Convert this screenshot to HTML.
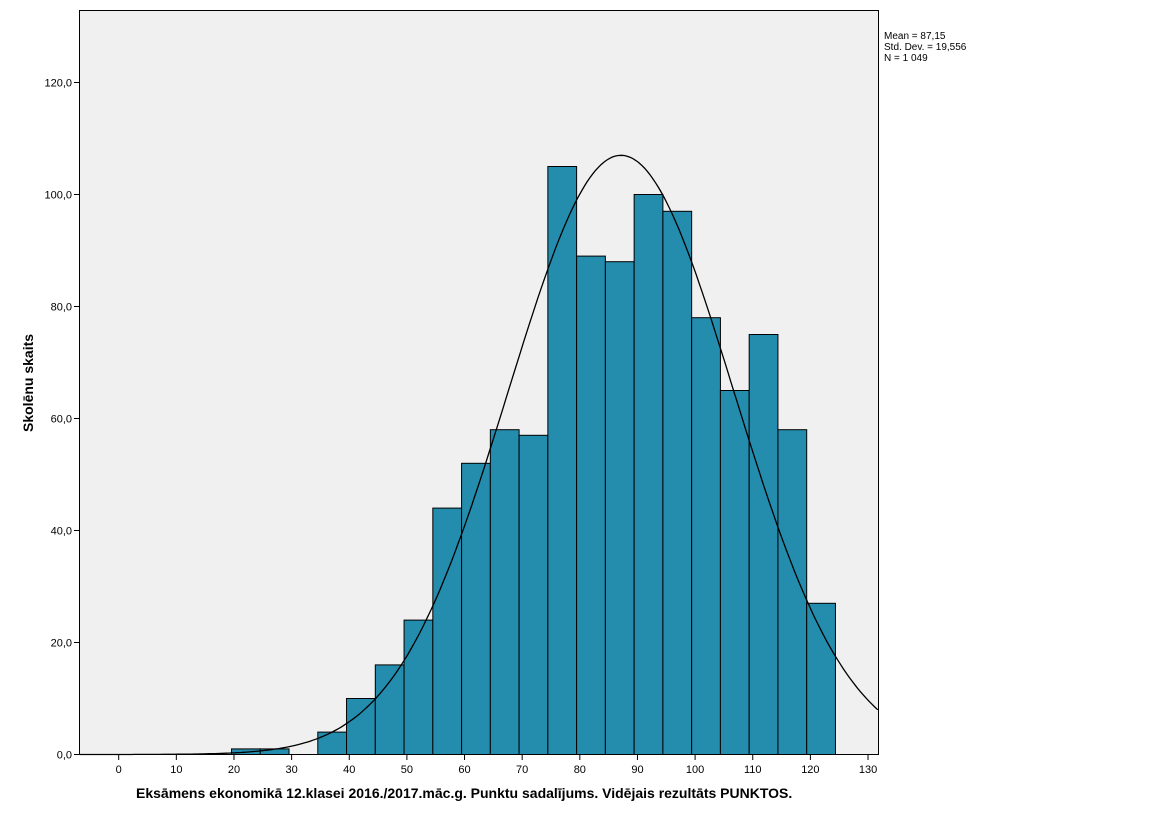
<!DOCTYPE html>
<html><head><meta charset="utf-8"><style>
body{margin:0;background:#fff;width:1171px;height:817px;overflow:hidden}
svg{font-family:"Liberation Sans",sans-serif}
</style></head><body>
<svg id="s" width="1171" height="817" xmlns="http://www.w3.org/2000/svg">
<rect x="79.5" y="10.5" width="799" height="744" fill="#f0f0f0" stroke="#000" stroke-width="1"/>
<g id="bars"></g>
<path id="curve" fill="none" stroke="#000" stroke-width="1.3"/>
<g id="ax" font-size="11"></g>
<text x="136" y="798" font-size="14" font-weight="bold">Eksāmens ekonomikā 12.klasei 2016./2017.māc.g. Punktu sadalījums. Vidējais rezultāts PUNKTOS.</text>
<text transform="translate(33,432) rotate(-90)" font-size="14" font-weight="bold">Skolēnu skaits</text>
<text x="884" y="39" font-size="10">Mean = 87,15</text>
<text x="884" y="50" font-size="10">Std. Dev. = 19,556</text>
<text x="884" y="61" font-size="10">N = 1 049</text>
</svg>
<script>
function X(v){return 118.7+v*5.764}
function Y(v){return 754.5-v*5.6}
var counts=[1,1,0,4,10,16,24,44,52,58,57,105,89,88,100,97,78,65,75,58,27];
var g=document.getElementById("bars"),h="";
counts.forEach(function(c,i){if(!c)return;var x0=231.5+28.76*i;
h+='<rect x="'+x0+'" y="'+Y(c)+'" width="28.76" height="'+(c*5.6)+'" fill="#248cad" stroke="#000" stroke-width="1"/>';});
g.innerHTML=h;
var d="";for(var v=-6.8;v<=131.9;v+=0.5){var y=107.0*Math.exp(-Math.pow(v-87.15,2)/(2*19.556*19.556));d+=(d?"L":"M")+X(v).toFixed(1)+","+Y(y).toFixed(1);}
document.getElementById("curve").setAttribute("d",d);
var a="";
for(var t=0;t<=130;t+=10){a+='<line x1="'+X(t)+'" y1="755" x2="'+X(t)+'" y2="760" stroke="#000"/><text x="'+X(t)+'" y="773" text-anchor="middle">'+t+'</text>';}
for(var t=0;t<=120;t+=20){a+='<line x1="74" y1="'+Y(t)+'" x2="80" y2="'+Y(t)+'" stroke="#000"/><text x="72" y="'+(Y(t)+4)+'" text-anchor="end">'+t+',0</text>';}
document.getElementById("ax").innerHTML=a;
</script>
</body></html>
